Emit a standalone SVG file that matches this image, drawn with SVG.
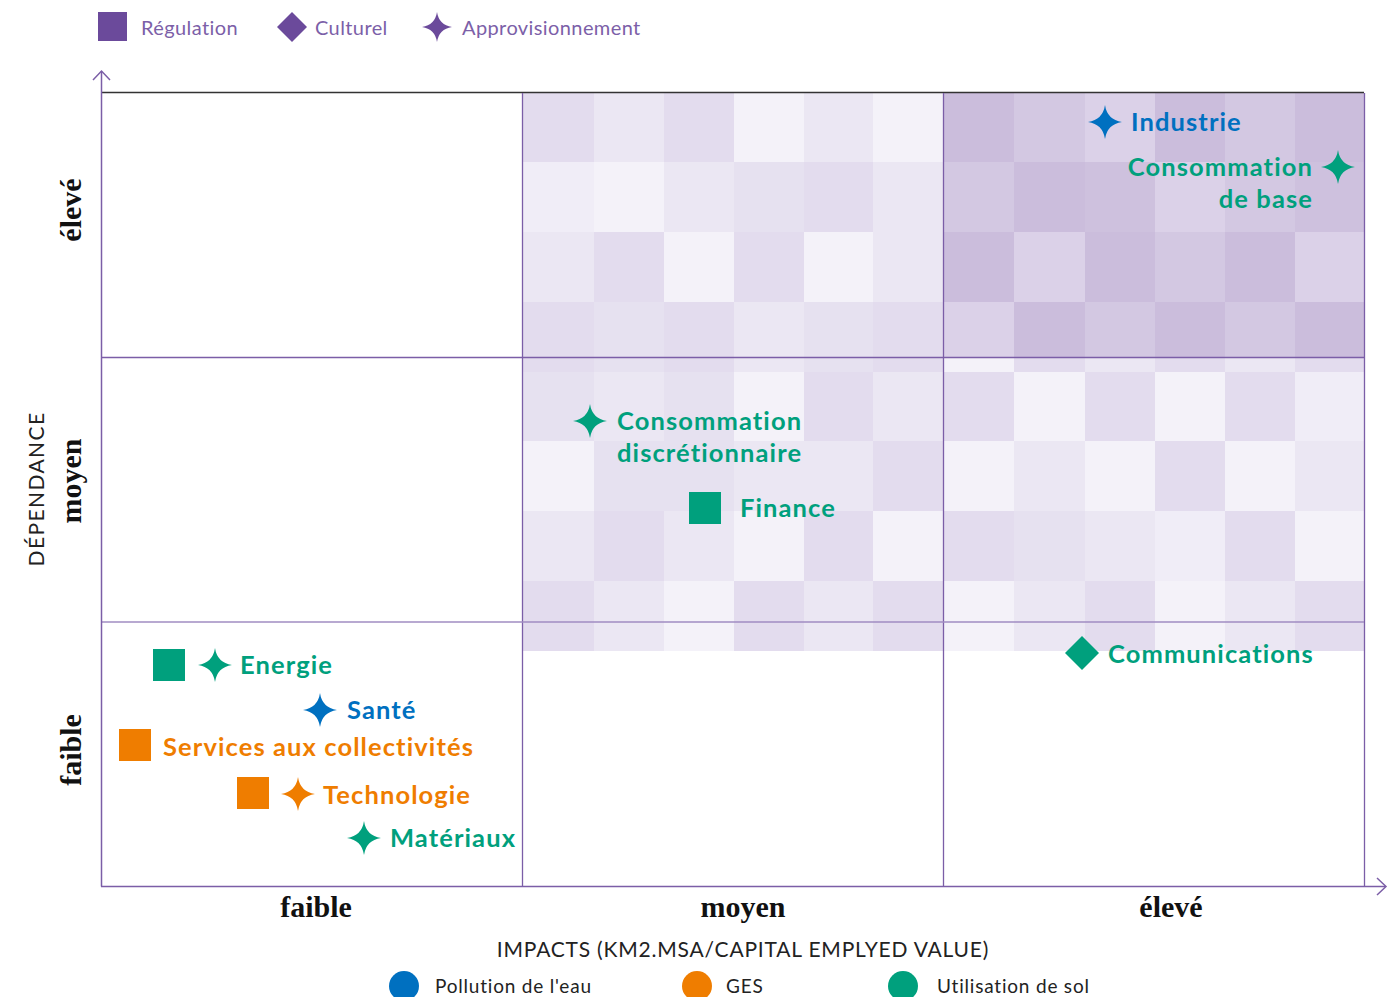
<svg xmlns="http://www.w3.org/2000/svg" width="1394" height="997" viewBox="0 0 1394 997">
<style>
.a{fill:#e3dcee}.b{fill:#e6e1f0}.c{fill:#ebe7f3}.d{fill:#f0edf7}.e{fill:#f4f2f9}
.A{fill:#cbbddc}.B{fill:#cec1de}.C{fill:#d3c8e2}.D{fill:#dbd1e8}
.leg{font-family:Lato,"Open Sans",sans-serif;font-size:20px;fill:#7c5fa8;letter-spacing:0.4px}
.lbl{font-family:Lato,"Open Sans",sans-serif;font-size:25.5px;font-weight:700;letter-spacing:1.1px}
.ax{font-family:"Liberation Serif",serif;font-size:30px;font-weight:700;fill:#111}
.ttl{font-family:Lato,"Open Sans",sans-serif;font-size:21px;fill:#222;letter-spacing:0.8px}
.ttlv{font-family:Lato,"Open Sans",sans-serif;font-size:21px;fill:#222;letter-spacing:1.4px}
.bl{font-family:Lato,"Open Sans",sans-serif;font-size:19px;fill:#222;letter-spacing:0.8px}
.g{fill:#00a07d}.bu{fill:#0070c0}.o{fill:#ef7d00}
.grid{stroke:#7b5ea7;stroke-width:1.3;fill:none}
</style>
<defs>
<path id="star" d="M0,-17 Q2.2,-2.2 17,0 Q2.2,2.2 0,17 Q-2.2,2.2 -17,0 Q-2.2,-2.2 0,-17 Z"/>
<path id="starS" d="M0,-15 Q2,-2 15,0 Q2,2 0,15 Q-2,2 -15,0 Q-2,-2 0,-15 Z"/>
</defs>

<g id="legend-top">
<rect x="98" y="12" width="29" height="29" fill="#6b4a9b"/>
<text class="leg" x="141" y="35">Régulation</text>
<path d="M292,12 L307,27 L292,42 L277,27 Z" fill="#6b4a9b"/>
<text class="leg" x="315" y="35">Culturel</text>
<use href="#starS" x="437" y="27" fill="#6b4a9b"/>
<text class="leg" x="462" y="35">Approvisionnement</text>
</g>

<g id="heatmap">
<g transform="translate(523,0)">
<rect class="a" x="0" y="93" width="71" height="69"/><rect class="c" x="71" y="93" width="70" height="69"/><rect class="a" x="141" y="93" width="70" height="69"/><rect class="e" x="211" y="93" width="70" height="69"/><rect class="c" x="281" y="93" width="69" height="69"/><rect class="e" x="350" y="93" width="70" height="69"/>
<rect class="d" x="0" y="162" width="71" height="70"/><rect class="e" x="71" y="162" width="70" height="70"/><rect class="c" x="141" y="162" width="70" height="70"/><rect class="b" x="211" y="162" width="70" height="70"/><rect class="a" x="281" y="162" width="69" height="70"/><rect class="c" x="350" y="162" width="70" height="70"/>
<rect class="c" x="0" y="232" width="71" height="70"/><rect class="a" x="71" y="232" width="70" height="70"/><rect class="e" x="141" y="232" width="70" height="70"/><rect class="a" x="211" y="232" width="70" height="70"/><rect class="e" x="281" y="232" width="69" height="70"/><rect class="c" x="350" y="232" width="70" height="70"/>
<rect class="a" x="0" y="302" width="71" height="70"/><rect class="b" x="71" y="302" width="70" height="70"/><rect class="a" x="141" y="302" width="70" height="70"/><rect class="c" x="211" y="302" width="70" height="70"/><rect class="b" x="281" y="302" width="69" height="70"/><rect class="a" x="350" y="302" width="70" height="70"/>
<rect class="b" x="0" y="372" width="71" height="69"/><rect class="c" x="71" y="372" width="70" height="69"/><rect class="b" x="141" y="372" width="70" height="69"/><rect class="e" x="211" y="372" width="70" height="69"/><rect class="a" x="281" y="372" width="69" height="69"/><rect class="c" x="350" y="372" width="70" height="69"/>
<rect class="e" x="0" y="441" width="71" height="70"/><rect class="b" x="71" y="441" width="70" height="70"/><rect class="b" x="141" y="441" width="70" height="70"/><rect class="c" x="211" y="441" width="70" height="70"/><rect class="c" x="281" y="441" width="69" height="70"/><rect class="a" x="350" y="441" width="70" height="70"/>
<rect class="c" x="0" y="511" width="71" height="70"/><rect class="a" x="71" y="511" width="70" height="70"/><rect class="c" x="141" y="511" width="70" height="70"/><rect class="e" x="211" y="511" width="70" height="70"/><rect class="a" x="281" y="511" width="69" height="70"/><rect class="e" x="350" y="511" width="70" height="70"/>
<rect class="a" x="0" y="581" width="71" height="70"/><rect class="c" x="71" y="581" width="70" height="70"/><rect class="e" x="141" y="581" width="70" height="70"/><rect class="a" x="211" y="581" width="70" height="70"/><rect class="c" x="281" y="581" width="69" height="70"/><rect class="a" x="350" y="581" width="70" height="70"/>
</g>
<g transform="translate(944,0)">
<rect class="A" x="0" y="93" width="70" height="69"/><rect class="C" x="70" y="93" width="71" height="69"/><rect class="D" x="141" y="93" width="70" height="69"/><rect class="A" x="211" y="93" width="70" height="69"/><rect class="C" x="281" y="93" width="70" height="69"/><rect class="A" x="351" y="93" width="69" height="69"/>
<rect class="C" x="0" y="162" width="70" height="70"/><rect class="A" x="70" y="162" width="71" height="70"/><rect class="B" x="141" y="162" width="70" height="70"/><rect class="D" x="211" y="162" width="70" height="70"/><rect class="C" x="281" y="162" width="70" height="70"/><rect class="B" x="351" y="162" width="69" height="70"/>
<rect class="A" x="0" y="232" width="70" height="70"/><rect class="D" x="70" y="232" width="71" height="70"/><rect class="A" x="141" y="232" width="70" height="70"/><rect class="C" x="211" y="232" width="70" height="70"/><rect class="A" x="281" y="232" width="70" height="70"/><rect class="D" x="351" y="232" width="69" height="70"/>
<rect class="D" x="0" y="302" width="70" height="55"/><rect class="A" x="70" y="302" width="71" height="55"/><rect class="C" x="141" y="302" width="70" height="55"/><rect class="A" x="211" y="302" width="70" height="55"/><rect class="C" x="281" y="302" width="70" height="55"/><rect class="A" x="351" y="302" width="69" height="55"/>
<rect class="e" x="0" y="357" width="70" height="15"/><rect class="a" x="70" y="357" width="71" height="15"/><rect class="c" x="141" y="357" width="70" height="15"/><rect class="a" x="211" y="357" width="70" height="15"/><rect class="c" x="281" y="357" width="70" height="15"/><rect class="a" x="351" y="357" width="69" height="15"/>
<rect class="a" x="0" y="372" width="70" height="69"/><rect class="e" x="70" y="372" width="71" height="69"/><rect class="a" x="141" y="372" width="70" height="69"/><rect class="e" x="211" y="372" width="70" height="69"/><rect class="a" x="281" y="372" width="70" height="69"/><rect class="d" x="351" y="372" width="69" height="69"/>
<rect class="e" x="0" y="441" width="70" height="70"/><rect class="c" x="70" y="441" width="71" height="70"/><rect class="e" x="141" y="441" width="70" height="70"/><rect class="a" x="211" y="441" width="70" height="70"/><rect class="e" x="281" y="441" width="70" height="70"/><rect class="c" x="351" y="441" width="69" height="70"/>
<rect class="a" x="0" y="511" width="70" height="70"/><rect class="b" x="70" y="511" width="71" height="70"/><rect class="c" x="141" y="511" width="70" height="70"/><rect class="d" x="211" y="511" width="70" height="70"/><rect class="a" x="281" y="511" width="70" height="70"/><rect class="e" x="351" y="511" width="69" height="70"/>
<rect class="e" x="0" y="581" width="70" height="70"/><rect class="c" x="70" y="581" width="71" height="70"/><rect class="a" x="141" y="581" width="70" height="70"/><rect class="e" x="211" y="581" width="70" height="70"/><rect class="c" x="281" y="581" width="70" height="70"/><rect class="a" x="351" y="581" width="69" height="70"/>
</g>
</g>

<g id="grid">
<line x1="101" y1="92.5" x2="1364" y2="92.5" stroke="#333" stroke-width="1.5"/>
<line class="grid" x1="522.5" y1="93" x2="522.5" y2="886"/>
<line class="grid" x1="943.5" y1="93" x2="943.5" y2="886"/>
<line class="grid" x1="1364.5" y1="93" x2="1364.5" y2="886"/>
<line class="grid" x1="101" y1="357.5" x2="1364" y2="357.5"/>
<line x1="101" y1="622" x2="1364" y2="622" stroke="#a08cc2" stroke-width="1.3"/>
</g>

<g id="axes" fill="none" stroke="#7b5ea7" stroke-width="1.5">
<line x1="101.5" y1="71" x2="101.5" y2="886.5"/>
<polyline points="93,80 101.5,71 110,80"/>
<line x1="101" y1="886.5" x2="1385" y2="886.5"/>
<polyline points="1377,878 1386,886.5 1377,895"/>
</g>

<g id="axis-labels">
<text class="ax" x="316" y="917" text-anchor="middle">faible</text>
<text class="ax" x="743" y="917" text-anchor="middle">moyen</text>
<text class="ax" x="1171" y="917" text-anchor="middle">élevé</text>
<text class="ax" transform="translate(81,210) rotate(-90)" text-anchor="middle">élevé</text>
<text class="ax" transform="translate(81,481) rotate(-90)" text-anchor="middle">moyen</text>
<text class="ax" transform="translate(81,750) rotate(-90)" text-anchor="middle">faible</text>
<text class="ttlv" transform="translate(44,489) rotate(-90)" text-anchor="middle">DÉPENDANCE</text>
<text class="ttl" x="743" y="957" text-anchor="middle">IMPACTS (KM2.MSA/CAPITAL EMPLYED VALUE)</text>
</g>

<g id="node-industrie">
<use href="#star" x="1105" y="122" class="bu"/>
<text class="lbl bu" x="1131" y="131">Industrie</text>
</g>
<g id="node-consommation-base">
<use href="#star" x="1338" y="167" class="g"/>
<text class="lbl g" x="1313" y="176" text-anchor="end">Consommation</text>
<text class="lbl g" x="1313" y="208" text-anchor="end">de base</text>
</g>
<g id="node-consommation-discretionnaire">
<use href="#star" x="590" y="421" class="g"/>
<text class="lbl g" x="617" y="430">Consommation</text>
<text class="lbl g" x="617" y="462">discrétionnaire</text>
</g>
<g id="node-finance">
<rect x="689" y="492" width="32" height="32" class="g"/>
<text class="lbl g" x="740" y="517">Finance</text>
</g>
<g id="node-communications">
<path d="M1082,636 L1099,653 L1082,670 L1065,653 Z" class="g"/>
<text class="lbl g" x="1108" y="663">Communications</text>
</g>
<g id="node-energie">
<rect x="153" y="649" width="32" height="32" class="g"/>
<use href="#star" x="215" y="665" class="g"/>
<text class="lbl g" x="240" y="674">Energie</text>
</g>
<g id="node-sante">
<use href="#star" x="320" y="710" class="bu"/>
<text class="lbl bu" x="347" y="719">Santé</text>
</g>
<g id="node-services">
<rect x="119" y="729" width="32" height="32" class="o"/>
<text class="lbl o" x="163" y="756">Services aux collectivités</text>
</g>
<g id="node-technologie">
<rect x="237" y="777" width="32" height="32" class="o"/>
<use href="#star" x="298" y="794" class="o"/>
<text class="lbl o" x="323" y="804">Technologie</text>
</g>
<g id="node-materiaux">
<use href="#star" x="364" y="838" class="g"/>
<text class="lbl g" x="390" y="847">Matériaux</text>
</g>

<g id="legend-bottom">
<circle cx="404" cy="986" r="15" class="bu"/>
<text class="bl" x="435" y="993">Pollution de l'eau</text>
<circle cx="697" cy="986" r="15" class="o"/>
<text class="bl" x="726" y="993">GES</text>
<circle cx="903" cy="986" r="15" class="g"/>
<text class="bl" x="937" y="993">Utilisation de sol</text>
</g>
</svg>
